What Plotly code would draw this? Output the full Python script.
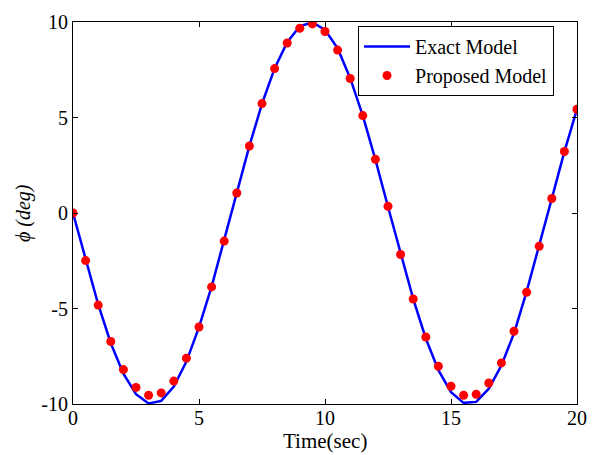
import plotly.graph_objects as go

# Time samples (sec)
time_exact = [i * 0.5 for i in range(41)]
phi_exact = [0.00, -2.47, -4.79, -6.82, -8.41, -9.49, -9.97, -9.84, -9.09, -7.78,
             -5.98, -3.85, -1.41, 1.08, 3.51, 5.72, 7.57, 8.94, 9.78, 9.99,
             9.59, 8.63, 7.06, 5.10, 2.79, 0.33, -2.15, -4.50, -6.57, -8.23,
             -9.38, -9.94, -9.89, -9.20, -7.98, -6.30, -4.12, -1.73, 0.75, 3.21,
             5.44]

time_prop = [i * 0.5 for i in range(41)]
phi_prop = [0.00, -2.49, -4.82, -6.73, -8.20, -9.13, -9.54, -9.42, -8.80, -7.60,
            -5.97, -3.87, -1.47, 1.05, 3.51, 5.73, 7.56, 8.90, 9.67, 9.90,
            9.50, 8.53, 7.04, 5.10, 2.81, 0.35, -2.17, -4.50, -6.49, -8.03,
            -9.07, -9.54, -9.49, -8.90, -7.85, -6.19, -4.15, -1.74, 0.76, 3.22,
            5.43]

x_ticks = [0, 5, 10, 15, 20]
y_ticks = [-10, -5, 0, 5, 10]
y_tick_text = ["-10", "-5", "0", "5", "10"]
x_title = "Time(sec)"
y_title = "<i>ϕ (deg)</i>"

FONT = "Liberation Serif"

fig = go.Figure()
fig.add_trace(go.Scatter(x=time_exact, y=phi_exact, mode="lines", name="Exact Model",
                         line=dict(color="#0000ff", width=2.5)))
fig.add_trace(go.Scatter(x=time_prop, y=phi_prop, mode="markers", name="Proposed Model",
                         marker=dict(color="#ff0000", size=9, line=dict(width=0))))

axis_common = dict(showgrid=False, zeroline=False, showline=True, linecolor="black",
                   linewidth=1, mirror="ticks", ticks="inside", ticklen=5,
                   tickcolor="black", automargin=False,
                   tickfont=dict(family=FONT, size=20, color="black"))

fig.update_layout(
    width=596, height=455,
    margin=dict(l=65, r=27, t=14, b=59),
    paper_bgcolor="white", plot_bgcolor="white",
    font=dict(family=FONT, size=20, color="black"),
    xaxis=dict(range=[0, 20], tickvals=x_ticks, ticklabelstandoff=-4, **axis_common),
    yaxis=dict(range=[-10, 10], tickvals=y_ticks, ticktext=y_tick_text, **axis_common),
    legend=dict(x=0.5655, y=0.9895, xanchor="left", yanchor="top",
                bgcolor="white", bordercolor="black", borderwidth=1, itemwidth=46,
                font=dict(family=FONT, size=20), tracegroupgap=0),
    showlegend=True,
    annotations=[
        dict(text=x_title, xref="paper", yref="paper", x=0.5, y=-0.097,
             xanchor="center", yanchor="middle", showarrow=False,
             font=dict(family=FONT, size=21, color="black")),
        dict(text=y_title, xref="paper", yref="paper", x=-0.099, y=0.5,
             xanchor="center", yanchor="middle", showarrow=False, textangle=-90,
             font=dict(family=FONT, size=20, color="black")),
    ],
)

fig.write_html("out.html")
